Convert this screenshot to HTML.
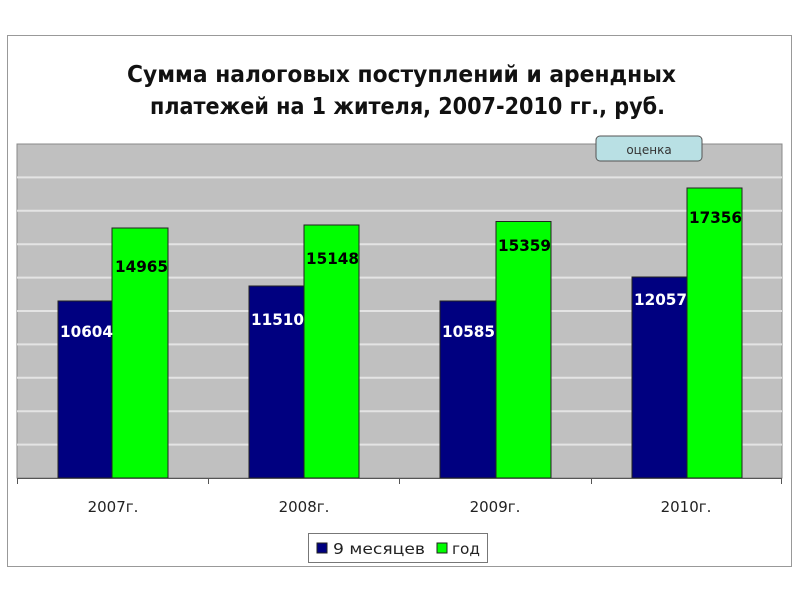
<!DOCTYPE html>
<html><head><meta charset="utf-8"><style>body{margin:0;background:#fff}svg{display:block}</style></head><body>
<svg width="800" height="600" xmlns="http://www.w3.org/2000/svg" font-family="DejaVu Sans, Liberation Sans, sans-serif">
<rect x="0" y="0" width="800" height="600" fill="#fff"/>
<rect x="7.5" y="35.5" width="784" height="531" fill="#fff" stroke="#999" stroke-width="1"/>
<text x="127" y="82" font-size="23" font-weight="bold" fill="#111" textLength="549" lengthAdjust="spacingAndGlyphs">Сумма налоговых поступлений и арендных</text>
<text x="150" y="114" font-size="23" font-weight="bold" fill="#111" textLength="515" lengthAdjust="spacingAndGlyphs">платежей на 1 жителя, 2007-2010 гг., руб.</text>
<rect x="17" y="144" width="765" height="334" fill="#c0c0c0" stroke="#888" stroke-width="1"/>
<g stroke="#e4e4e4" stroke-width="2">
<line x1="17" x2="782" y1="177.4" y2="177.4"/><line x1="17" x2="782" y1="210.8" y2="210.8"/>
<line x1="17" x2="782" y1="244.2" y2="244.2"/><line x1="17" x2="782" y1="277.6" y2="277.6"/>
<line x1="17" x2="782" y1="311" y2="311"/><line x1="17" x2="782" y1="344.4" y2="344.4"/>
<line x1="17" x2="782" y1="377.8" y2="377.8"/><line x1="17" x2="782" y1="411.2" y2="411.2"/>
<line x1="17" x2="782" y1="444.6" y2="444.6"/>
</g>
<g stroke="#222" stroke-width="1">
<rect x="58" y="301" width="54" height="177" fill="#000080"/>
<rect x="112" y="228" width="56" height="250" fill="#00ff00"/>
<rect x="249" y="286" width="55" height="192" fill="#000080"/>
<rect x="304" y="225" width="55" height="253" fill="#00ff00"/>
<rect x="440" y="301" width="56" height="177" fill="#000080"/>
<rect x="496" y="221.5" width="55" height="256.5" fill="#00ff00"/>
<rect x="632" y="277" width="55" height="201" fill="#000080"/>
<rect x="687" y="188" width="55" height="290" fill="#00ff00"/>
</g>
<g font-size="16" font-weight="bold">
<text x="60" y="337" fill="#fff" textLength="53" lengthAdjust="spacingAndGlyphs">10604</text>
<text x="115" y="272" fill="#000" textLength="53" lengthAdjust="spacingAndGlyphs">14965</text>
<text x="251" y="325" fill="#fff" textLength="53" lengthAdjust="spacingAndGlyphs">11510</text>
<text x="306" y="264" fill="#000" textLength="53" lengthAdjust="spacingAndGlyphs">15148</text>
<text x="442" y="337" fill="#fff" textLength="53" lengthAdjust="spacingAndGlyphs">10585</text>
<text x="498" y="251" fill="#000" textLength="53" lengthAdjust="spacingAndGlyphs">15359</text>
<text x="634" y="305" fill="#fff" textLength="53" lengthAdjust="spacingAndGlyphs">12057</text>
<text x="689" y="223" fill="#000" textLength="53" lengthAdjust="spacingAndGlyphs">17356</text>
</g>
<g stroke="#555" stroke-width="1">
<line x1="17" x2="782" y1="478.5" y2="478.5"/>
<line x1="17.5" x2="17.5" y1="478" y2="484"/><line x1="208.5" x2="208.5" y1="478" y2="484"/>
<line x1="399.5" x2="399.5" y1="478" y2="484"/><line x1="591.5" x2="591.5" y1="478" y2="484"/>
<line x1="781.5" x2="781.5" y1="478" y2="484"/>
</g>
<g font-size="15" text-anchor="middle" fill="#222">
<text x="113" y="512">2007г.</text><text x="304" y="512">2008г.</text>
<text x="495" y="512">2009г.</text><text x="686" y="512">2010г.</text>
</g>
<rect x="308.5" y="533.5" width="179" height="29" fill="#fff" stroke="#777"/>
<rect x="317" y="543" width="10" height="10" fill="#000080" stroke="#222"/>
<text x="333" y="554" font-size="15" fill="#222" textLength="92" lengthAdjust="spacingAndGlyphs">9 месяцев</text>
<rect x="437" y="543" width="10" height="10" fill="#00ff00" stroke="#222"/>
<text x="452" y="554" font-size="15" fill="#222" textLength="28" lengthAdjust="spacingAndGlyphs">год</text>
<rect x="596" y="136" width="106" height="25" rx="4" fill="#b9e0e4" stroke="#555"/>
<text x="649" y="154" font-size="12" text-anchor="middle" fill="#333">оценка</text>
</svg>
</body></html>
